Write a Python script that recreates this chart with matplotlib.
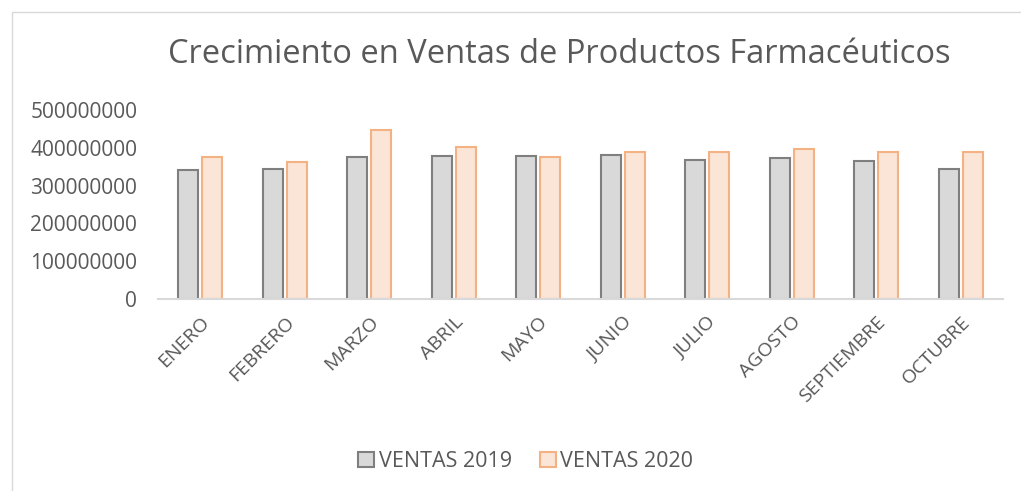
import numpy as np
import matplotlib
matplotlib.use('Agg')
import matplotlib.pyplot as plt
from matplotlib.patches import Rectangle

# Data
meses = ['ENERO', 'FEBRERO', 'MARZO', 'ABRIL', 'MAYO', 'JUNIO',
         'JULIO', 'AGOSTO', 'SEPTIEMBRE', 'OCTUBRE']
ventas_2019 = [341e6, 343e6, 376e6, 377e6, 377e6, 382e6, 368e6, 373e6, 366e6, 344e6]
ventas_2020 = [375e6, 363e6, 447e6, 403e6, 375e6, 389e6, 389e6, 396e6, 389e6, 389e6]
y_ticks = [0, 100e6, 200e6, 300e6, 400e6, 500e6]

texto = '#595959'
plt.rcParams['font.family'] = ['Open Sans', 'DejaVu Sans']

fig = plt.figure(figsize=(10.21, 4.91), dpi=100)
ax = fig.add_axes([0.1548, 0.391, 0.8276, 0.385])

x = np.arange(len(meses))
ancho = 0.237
sep = 0.142
ax.bar(x - sep, ventas_2019, ancho, color='#D9D9D9', edgecolor='#7F7F7F',
       linewidth=1.5, label='VENTAS 2019')
ax.bar(x + sep, ventas_2020, ancho, color='#FBE5D6', edgecolor='#F4B183',
       linewidth=1.5, label='VENTAS 2020')

ax.set_xlim(-0.5, len(meses) - 0.5)
ax.set_ylim(0, 500e6)
ax.set_yticks(y_ticks)
ax.set_yticklabels([f'{int(v)}' for v in y_ticks], fontsize=15, color=texto)
ax.set_xticks(x)
ax.set_xticklabels(meses, rotation=45, ha='right', rotation_mode='anchor',
                   fontsize=14, color=texto)
ax.tick_params(axis='both', length=0)
ax.tick_params(axis='y', pad=15)
ax.tick_params(axis='x', pad=10)

for lado in ['top', 'right', 'left']:
    ax.spines[lado].set_visible(False)
ax.spines['bottom'].set_color('#D9D9D9')
ax.spines['bottom'].set_linewidth(1.5)

fig.text(0.548, 0.89, 'Crecimiento en Ventas de Productos Farmacéuticos',
         ha='center', va='center', fontsize=23.5, color=texto)

fig.legend(loc='center', bbox_to_anchor=(0.515, 0.06), ncol=2, frameon=False,
           fontsize=15.5, labelcolor=texto, handlelength=0.75, handleheight=0.75,
           handletextpad=0.2, columnspacing=1.3)

# Marco del gráfico
fig.patches.append(Rectangle((12 / 1021, -0.1), 1.2, 1 - 12 / 491 + 0.1,
                             transform=fig.transFigure, fill=False,
                             edgecolor='#D9D9D9', linewidth=1))

fig.savefig('out.png', dpi=100)
